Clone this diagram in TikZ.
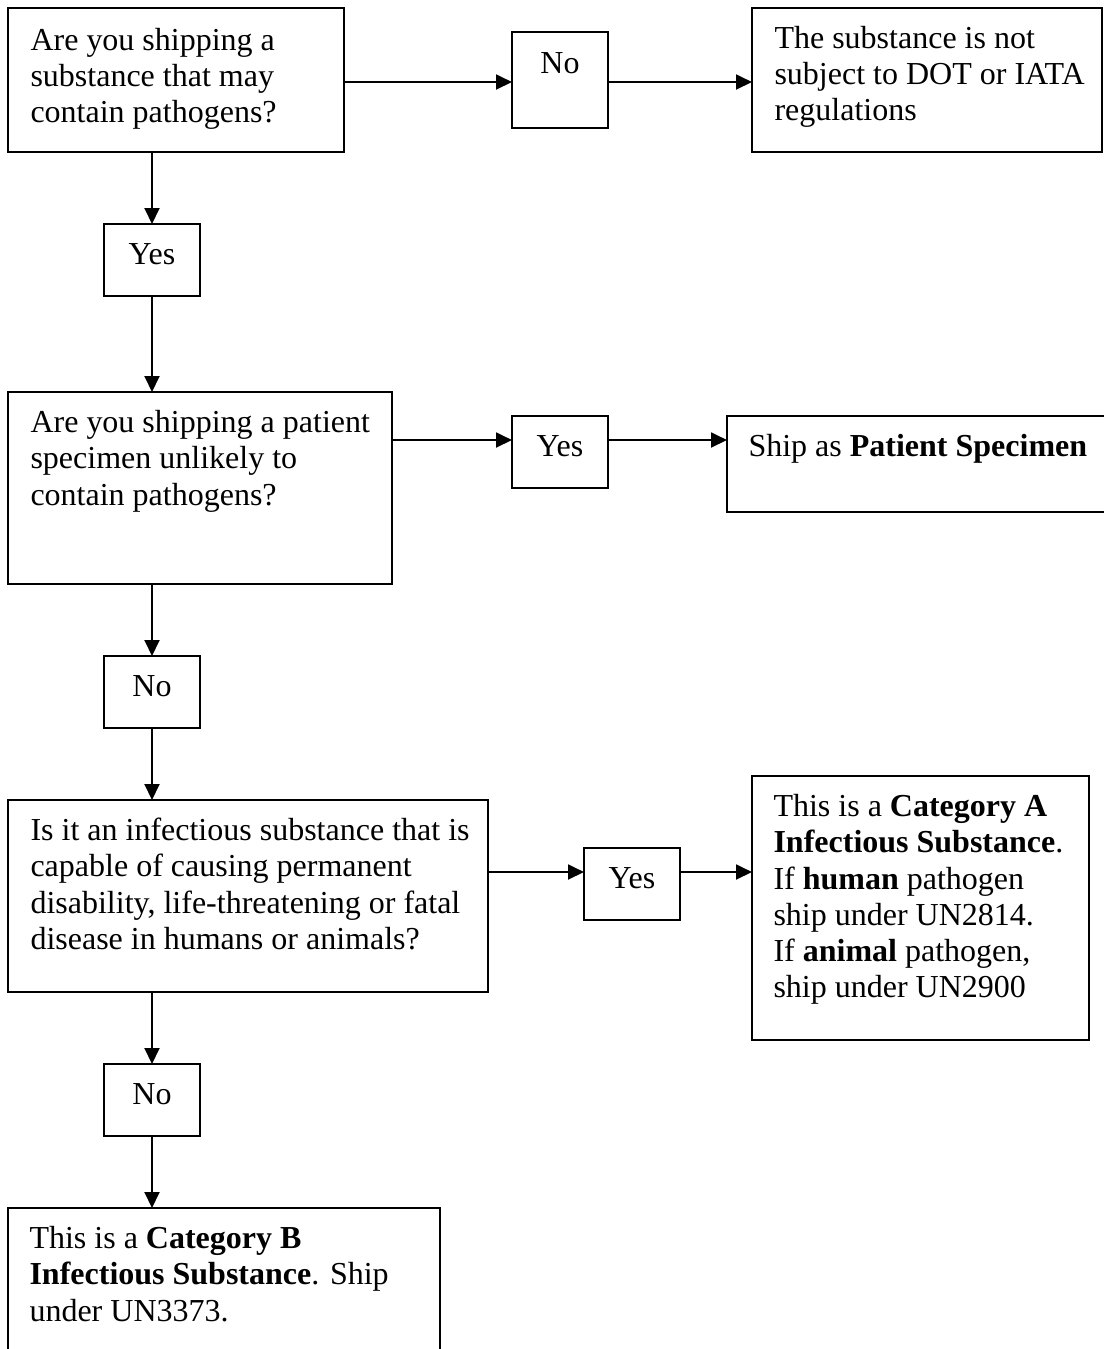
\documentclass[tikz,border=0pt]{standalone}
\usepackage{fontspec}
\setmainfont{Liberation Serif}
\usetikzlibrary{arrows.meta,calc}
\begin{document}
\begin{tikzpicture}[x=0.375pt,y=-0.375pt,
  box/.style={draw, line width=0.8pt, anchor=north west, inner sep=0pt, outer sep=0pt},
  txt/.style={anchor=base west, inner sep=0pt, text width=12cm, align=flush left, font=\fontsize{12pt}{13.6pt}\selectfont},
  lbl/.style={anchor=base, inner sep=0pt, font=\fontsize{12pt}{13.6pt}\selectfont},
  arr/.style={line width=0.8pt, -{Triangle[length=6pt,width=5.6pt]}}]
\useasboundingbox (0,0) rectangle (1104,1349);
\fill[white] (0,0) rectangle (1104,1349);
\clip (0,0) rectangle (1104,1349);

% boxes
\node[box, minimum width=126pt, minimum height=54pt] (b1) at (8,8) {};
\node[box, minimum width=36pt, minimum height=36pt] (no1) at (512,32) {};
\node[box, minimum width=131.25pt, minimum height=54pt] (b2) at (752,8) {};
\node[box, minimum width=36pt, minimum height=27pt] (yes1) at (104,224) {};
\node[box, minimum width=144pt, minimum height=72pt] (b3) at (8,392) {};
\node[box, minimum width=36pt, minimum height=27pt] (yes2) at (512,416) {};
\node[box, minimum width=146.25pt, minimum height=36pt] (b4) at (727,416) {};
\node[box, minimum width=36pt, minimum height=27pt] (no2) at (104,656) {};
\node[box, minimum width=180pt, minimum height=72pt] (b5) at (8,800) {};
\node[box, minimum width=36pt, minimum height=27pt] (yes3) at (584,848) {};
\node[box, minimum width=126.375pt, minimum height=99pt] (b6) at (752,776) {};
\node[box, minimum width=36pt, minimum height=27pt] (no3) at (104,1064) {};
\node[box, minimum width=162pt, minimum height=75pt] (b7) at (8,1208) {};

% texts
\node[txt] (t1) at ($(b1.north west)+(22,42)$) {Are you shipping a\\substance that may\\contain pathogens?};
\node[lbl] (tn1) at ($(no1.north)+(0,41)$) {No};
\node[txt] (t2) at ($(b2.north west)+(22,40)$) {The substance is not\\subject to DOT or IATA\\regulations};
\node[lbl] (ty1) at ($(yes1.north)+(0,40.5)$) {Yes};
\node[txt] (t3) at ($(b3.north west)+(22,40.5)$) {Are you shipping a patient\\specimen unlikely to\\contain pathogens?};
\node[lbl] (ty2) at ($(yes2.north)+(0,40.5)$) {Yes};
\node[txt] (t4) at ($(b4.north west)+(21,40.5)$) {Ship as \textbf{Patient Specimen}};
\node[lbl] (tn2) at ($(no2.north)+(0,40.5)$) {No};
\node[txt] (t5) at ($(b5.north west)+(22,40.5)$) {Is it an infectious substance that is\\capable of causing permanent\\disability, life-threatening or fatal\\disease in humans or animals?};
\node[lbl] (ty3) at ($(yes3.north)+(0,40.5)$) {Yes};
\node[txt] (t6) at ($(b6.north west)+(21,40.5)$) {This is a \textbf{Category A}\\\textbf{Infectious Substance}.\\If \textbf{human} pathogen\\ship under UN2814.\\If \textbf{animal} pathogen,\\ship under UN2900};
\node[lbl] (tn3) at ($(no3.north)+(0,40.5)$) {No};
\node[txt] (t7) at ($(b7.north west)+(21,40.5)$) {This is a \textbf{Category B}\\\textbf{Infectious Substance}. Ship\\under UN3373.};

% row levels
\coordinate (r1) at (0,82);
\coordinate (r2) at (0,440);
\coordinate (r3) at (0,872);

% connectors
\draw[arr] (b1.east |- r1) -- (no1.west |- r1);
\draw[arr] (no1.east |- r1) -- (b2.west |- r1);
\draw[arr] (b1.south -| yes1.north) -- (yes1.north);
\draw[arr] (yes1.south) -- (b3.north -| yes1.south);
\draw[arr] (b3.east |- r2) -- (yes2.west |- r2);
\draw[arr] (yes2.east |- r2) -- (b4.west |- r2);
\draw[arr] (b3.south -| no2.north) -- (no2.north);
\draw[arr] (no2.south) -- (b5.north -| no2.south);
\draw[arr] (b5.east |- r3) -- (yes3.west |- r3);
\draw[arr] (yes3.east |- r3) -- (b6.west |- r3);
\draw[arr] (b5.south -| no3.north) -- (no3.north);
\draw[arr] (no3.south) -- (b7.north -| no3.south);
\end{tikzpicture}
\end{document}
